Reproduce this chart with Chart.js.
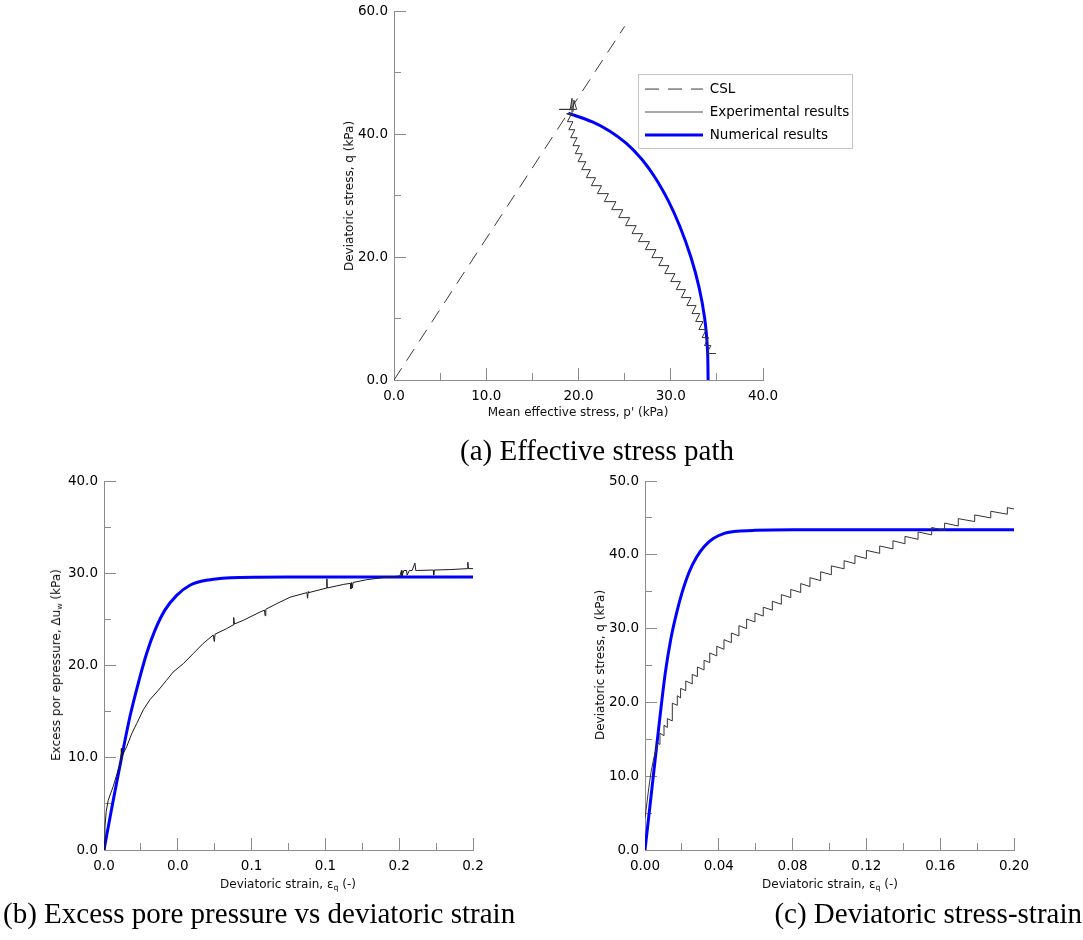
<!DOCTYPE html>
<html>
<head>
<meta charset="utf-8">
<script src="https://cdn.jsdelivr.net/npm/chart.js@4.4.0/dist/chart.umd.min.js"></script>
<style>
html,body{margin:0;padding:0;background:#fff;}
#page{position:relative;width:1083px;height:940px;overflow:hidden;background:#fff;}
#page canvas{position:absolute;left:0;top:0;}
.t{position:absolute;font-family:'DejaVu Sans',sans-serif;font-size:12px;color:#111;white-space:nowrap;line-height:1;}
.tx{transform:translate(-50%,-50%);}
.ty{transform:translate(-50%,-50%) rotate(-90deg);}
.t sub{font-size:65%;vertical-align:-2px;line-height:0;}
.cap{position:absolute;font-family:'Liberation Serif',serif;font-size:29px;color:#000;white-space:nowrap;line-height:1;}
</style>
</head>
<body>
<div id="page">
  <canvas id="chartA" width="1083" height="940"></canvas>
  <canvas id="chartB" width="1083" height="940"></canvas>
  <canvas id="chartC" width="1083" height="940"></canvas>

  <div class="t tx" style="left:578px;top:412px;">Mean effective stress, p' (kPa)</div>
  <div class="t ty" style="left:349px;top:196px;">Deviatoric stress, q (kPa)</div>
  <div class="cap" style="left:460px;top:436px;">(a) Effective stress path</div>

  <div class="t tx" style="left:288px;top:884px;">Deviatoric strain, ε<sub>q</sub> (-)</div>
  <div class="t ty" style="left:56px;top:665px;">Excess por epressure, Δu<sub>w</sub> (kPa)</div>
  <div class="cap" style="left:3px;top:899px;">(b) Excess pore pressure vs deviatoric strain</div>

  <div class="t tx" style="left:830px;top:884px;">Deviatoric strain, ε<sub>q</sub> (-)</div>
  <div class="t ty" style="left:600px;top:665px;">Deviatoric stress, q (kPa)</div>
  <div class="cap" style="right:1px;top:899px;">(c) Deviatoric stress-strain</div>
</div>
<script>
// ---------------- (a) Effective stress path ----------------
const aCslP = [0, 25];
const aCslQ = [0, 57.5];
const aExpP = [34.9, 33.9, 34.35, 33.65, 34.1, 33.4, 33.85, 33.05, 33.5, 32.7, 33.15, 32.3, 32.75, 31.75, 32.2, 31.15, 31.6, 30.6, 31.05, 30.0, 30.45, 29.35, 29.8, 28.7, 29.15, 27.95, 28.4, 27.25, 27.7, 26.5, 26.95, 25.8, 26.25, 25.1, 25.55, 24.35, 24.8, 23.6, 24.05, 22.8, 23.25, 22.05, 22.5, 21.4, 21.85, 20.85, 21.3, 20.35, 20.8, 19.95, 20.4, 19.65, 20.1, 19.4, 19.85, 19.15, 19.6, 18.95, 19.4, 18.8, 19.25, 18.7, 19.3, 19.3, 19.1, 17.9, 19.8, 19.5, 19.4];
const aExpQ = [4.3, 4.3, 5.6, 5.6, 6.9, 6.9, 8.2, 8.2, 9.5, 9.5, 10.8, 10.8, 12.1, 12.1, 13.4, 13.4, 14.7, 14.7, 16.0, 16.0, 17.3, 17.3, 18.6, 18.6, 19.9, 19.9, 21.2, 21.2, 22.5, 22.5, 23.8, 23.8, 25.1, 25.1, 26.4, 26.4, 27.7, 27.7, 29.0, 29.0, 30.3, 30.3, 31.6, 31.6, 32.9, 32.9, 34.2, 34.2, 35.5, 35.5, 36.8, 36.8, 38.1, 38.1, 39.4, 39.4, 40.7, 40.7, 42.0, 42.0, 43.3, 43.3, 43.0, 45.8, 44.0, 44.0, 44.0, 45.5, 43.6];
const aNumP = [34.05, 33.98, 33.68, 33.08, 32.18, 30.98, 29.78, 28.26, 26.79, 25.16, 23.36, 21.45, 18.9];
const aNumQ = [0, 5, 10, 15, 20, 25, 29, 33, 36, 38.5, 40.5, 42, 43.4];
const aXTicks = [0, 10, 20, 30, 40];
const aXTickLabels = ['0.0', '10.0', '20.0', '30.0', '40.0'];
const aXMinorTicks = [5, 15, 25, 35];
const aYTicks = [0, 20, 40, 60];
const aYTickLabels = ['0.0', '20.0', '40.0', '60.0'];
const aYMinorTicks = [10, 30, 50];
const aLegendLabels = ['CSL', 'Experimental results', 'Numerical results'];

// ---------------- (b) Excess pore pressure ----------------
const bExpStrain = [0, 0.0005, 0.0012, 0.0023, 0.0050, 0.0077, 0.0092, 0.0094, 0.0096, 0.0123, 0.0150, 0.0177, 0.0213, 0.0249, 0.0294, 0.0339, 0.0375, 0.0430, 0.0484, 0.0538, 0.0592, 0.0598, 0.0602, 0.0665, 0.0700, 0.0703, 0.0707, 0.0755, 0.0846, 0.0870, 0.0873, 0.0877, 0.0936, 0.1008, 0.1100, 0.1103, 0.1107, 0.1110, 0.1207, 0.1208, 0.1210, 0.1300, 0.1335, 0.1338, 0.1342, 0.1346, 0.1350, 0.1423, 0.1520, 0.1604, 0.1612, 0.1615, 0.1625, 0.1640, 0.1643, 0.1655, 0.1670, 0.1685, 0.1690, 0.1700, 0.1785, 0.1787, 0.1790, 0.1880, 0.1970, 0.1972, 0.1975, 0.2000];
const bExpDu = [0, 2.5, 4.2, 5.4, 6.9, 8.7, 9.6, 11.0, 10.1, 11.2, 12.6, 13.7, 15.2, 16.3, 17.3, 18.4, 19.3, 20.2, 21.3, 22.4, 23.3, 22.6, 23.4, 24.0, 24.4, 25.2, 24.5, 24.9, 25.8, 26.0, 25.4, 26.1, 26.7, 27.4, 27.9, 27.3, 28.0, 27.9, 28.4, 29.4, 28.4, 28.8, 28.9, 28.3, 29.0, 28.4, 29.0, 29.3, 29.55, 29.7, 30.3, 29.7, 30.3, 30.3, 29.8, 30.3, 30.3, 31.1, 30.3, 30.3, 30.35, 29.8, 30.35, 30.4, 30.5, 31.2, 30.5, 30.5];
const bNumStrain = [0, 0.005, 0.0096, 0.0141, 0.0186, 0.0231, 0.0276, 0.033, 0.0394, 0.0466, 0.0575, 0.0737, 0.1, 0.2];
const bNumDu = [0, 5.4, 10.1, 14.5, 18.1, 21.3, 23.8, 26.0, 27.6, 28.7, 29.3, 29.55, 29.6, 29.6];
const bXTicks = [0, 0.04, 0.08, 0.12, 0.16, 0.20];
const bXTickLabels = ['0.0', '0.0', '0.1', '0.1', '0.2', '0.2'];
const bXMinorTicks = [0.02, 0.06, 0.10, 0.14, 0.18];
const bYTicks = [0, 10, 20, 30, 40];
const bYTickLabels = ['0.0', '10.0', '20.0', '30.0', '40.0'];
const bYMinorTicks = [5, 15, 25, 35];

// ---------------- (c) Deviatoric stress-strain ----------------
const cExpStrain = [0, 0.0021, 0.0033, 0.0050, 0.0070, 0.0081, 0.0081, 0.0103, 0.0103, 0.0121, 0.0121, 0.0148, 0.0148, 0.0175, 0.0175, 0.0193, 0.0193, 0.0221, 0.0221, 0.0256, 0.0256, 0.0284, 0.0284, 0.0320, 0.0320, 0.0351, 0.0351, 0.0389, 0.0389, 0.0428, 0.0428, 0.0468, 0.0468, 0.0509, 0.0509, 0.0551, 0.0551, 0.0596, 0.0596, 0.0641, 0.0641, 0.0690, 0.0690, 0.0739, 0.0739, 0.0790, 0.0790, 0.0844, 0.0844, 0.0894, 0.0894, 0.0952, 0.0952, 0.1010, 0.1010, 0.1079, 0.1079, 0.1138, 0.1138, 0.1200, 0.1200, 0.1272, 0.1272, 0.1344, 0.1344, 0.1409, 0.1409, 0.1480, 0.1480, 0.1554, 0.1554, 0.1624, 0.1624, 0.1698, 0.1698, 0.1787, 0.1787, 0.1874, 0.1874, 0.1964, 0.1964, 0.2000];
const cExpQ = [4.3, 8.5, 10.6, 12.7, 14.5, 14.3, 15.8, 15.5, 16.9, 16.6, 17.8, 17.5, 19.9, 19.6, 20.9, 20.6, 21.9, 21.6, 22.9, 22.5, 23.8, 23.5, 24.8, 24.4, 25.7, 25.4, 26.7, 26.3, 27.6, 27.2, 28.5, 28.1, 29.4, 29.0, 30.4, 30.0, 31.3, 30.9, 32.1, 31.7, 32.9, 32.5, 33.7, 33.3, 34.6, 34.2, 35.3, 34.9, 36.1, 35.7, 36.9, 36.5, 37.7, 37.3, 38.5, 38.1, 39.2, 38.8, 39.9, 39.5, 40.6, 40.2, 41.2, 40.8, 41.9, 41.5, 42.5, 42.1, 43.1, 42.7, 43.7, 43.3, 44.3, 43.9, 44.9, 44.5, 45.4, 45.0, 45.9, 45.5, 46.4, 46.2];
const cNumStrain = [0, 0.004, 0.008, 0.011, 0.014, 0.017, 0.020, 0.024, 0.028, 0.032, 0.037, 0.043, 0.050, 0.060, 0.080, 0.2];
const cNumQ = [0, 8.9, 17.8, 24.0, 28.6, 32.0, 34.8, 37.7, 39.7, 41.1, 42.2, 42.9, 43.2, 43.32, 43.38, 43.4];
const cXTicks = [0, 0.04, 0.08, 0.12, 0.16, 0.20];
const cXTickLabels = ['0.00', '0.04', '0.08', '0.12', '0.16', '0.20'];
const cXMinorTicks = [0.02, 0.06, 0.10, 0.14, 0.18];
const cYTicks = [0, 10, 20, 30, 40, 50];
const cYTickLabels = ['0.0', '10.0', '20.0', '30.0', '40.0', '50.0'];
const cYMinorTicks = [5, 15, 25, 35, 45];

// ---------------- styling / helpers ----------------
const FONT = "'DejaVu Sans'";
const AXIS_GRAY = '#8c8c8c';
const EXP_COLOR = '#333333';
const NUM_COLOR = '#0000ff';

function pts(xs, ys) { return xs.map((x, i) => ({ x: x, y: ys[i] })); }

function majorAxis(pos, min, max, ticks, labels) {
  return {
    type: 'linear', position: pos, min: min, max: max, weight: 1,
    afterBuildTicks: s => { s.ticks = ticks.map(v => ({ value: v })); },
    afterFit: s => {
      if (pos === 'left') s.width = 50; else s.height = 30;
      s.paddingTop = 0; s.paddingBottom = 0; s.paddingLeft = 0; s.paddingRight = 0;
    },
    grid: { display: true, drawOnChartArea: false, drawTicks: true, tickLength: -12, color: AXIS_GRAY, lineWidth: 1 },
    border: { display: true, color: AXIS_GRAY, width: 1 },
    ticks: {
      display: true, autoSkip: false, maxRotation: 0, minRotation: 0,
      padding: pos === 'left' ? 18 : 20, color: '#000',
      font: { family: FONT, size: 13.5 },
      callback: (v, i) => labels[i]
    }
  };
}
function minorAxis(pos, min, max, ticks) {
  return {
    type: 'linear', position: pos, min: min, max: max, weight: 0,
    afterBuildTicks: s => { s.ticks = ticks.map(v => ({ value: v })); },
    afterFit: s => {
      if (pos === 'left') s.width = 0; else s.height = 0;
      s.paddingTop = 0; s.paddingBottom = 0; s.paddingLeft = 0; s.paddingRight = 0;
    },
    grid: { display: true, drawOnChartArea: false, drawTicks: true, tickLength: -7, color: AXIS_GRAY, lineWidth: 1 },
    border: { display: false },
    ticks: { display: false }
  };
}
function buildScales(xMin, xMax, xT, xL, xM, yMin, yMax, yT, yL, yM) {
  return {
    x: majorAxis('bottom', xMin, xMax, xT, xL),
    xm: minorAxis('bottom', xMin, xMax, xM),
    y: majorAxis('left', yMin, yMax, yT, yL),
    ym: minorAxis('left', yMin, yMax, yM)
  };
}
function baseOptions(padding, scales) {
  return {
    responsive: false, animation: false, devicePixelRatio: 1,
    layout: { padding: padding },
    scales: scales,
    plugins: { legend: { display: false }, tooltip: { enabled: false }, title: { display: false } },
    elements: { point: { radius: 0 } }
  };
}

// legend placement and frame (layout, not data)
const LEGEND_POS = { left: 635.5, top: 72.8 };
const LEGEND_FRAME = { left: 638, top: 74, width: 214, height: 74 };
const legendFrame = {
  id: 'legendFrame',
  afterLayout(chart) {
    const lg = chart.legend;
    if (!lg) return;
    lg.left = LEGEND_POS.left; lg.top = LEGEND_POS.top;
    lg.width = LEGEND_FRAME.width + 20; lg.height = LEGEND_FRAME.height + 10;
    lg.right = lg.left + lg.width; lg.bottom = lg.top + lg.height;
  },
  beforeDraw(chart) {
    const ctx = chart.ctx, f = LEGEND_FRAME;
    ctx.save();
    ctx.fillStyle = '#ffffff';
    ctx.fillRect(f.left, f.top, f.width, f.height);
    ctx.strokeStyle = '#c4c4c4';
    ctx.lineWidth = 1;
    ctx.strokeRect(f.left + 0.5, f.top + 0.5, f.width, f.height);
    ctx.restore();
  }
};

// ---------------- chart (a) ----------------
const optA = baseOptions({ left: 344, right: 320, top: 11, bottom: 530 },
  buildScales(0, 40, aXTicks, aXTickLabels, aXMinorTicks, 0, 60, aYTicks, aYTickLabels, aYMinorTicks));
optA.plugins.legend = {
  display: true, position: 'chartArea', align: 'start', fullSize: false,
  labels: {
    usePointStyle: true, pointStyle: 'line', pointStyleWidth: 58, padding: 9.5,
    color: '#000', font: { family: FONT, size: 13.5 },
    generateLabels: chart => {
      const items = Chart.defaults.plugins.legend.labels.generateLabels(chart);
      items.forEach(it => {
        const ds = chart.data.datasets[it.datasetIndex];
        it.lineDash = ds.borderDash || [];
        it.lineWidth = ds.legendLineWidth || ds.borderWidth;
        it.strokeStyle = ds.legendColor || ds.borderColor;
        it.pointStyle = 'line';
      });
      return items;
    }
  }
};
new Chart(document.getElementById('chartA'), {
  type: 'line',
  data: {
    datasets: [
      { label: aLegendLabels[0], data: pts(aCslP, aCslQ), borderColor: '#3a3a3a', borderWidth: 1, borderDash: [14, 9], pointRadius: 0, tension: 0, fill: false },
      { label: aLegendLabels[1], data: pts(aExpP, aExpQ), borderColor: EXP_COLOR, legendColor: '#8a8a8a', legendLineWidth: 1.5, borderWidth: 1, pointRadius: 0, tension: 0, fill: false },
      { label: aLegendLabels[2], data: pts(aNumP, aNumQ), indexAxis: 'y', borderColor: NUM_COLOR, borderWidth: 3, pointRadius: 0, cubicInterpolationMode: 'monotone', fill: false }
    ]
  },
  options: optA,
  plugins: [legendFrame]
});

// ---------------- chart (b) ----------------
new Chart(document.getElementById('chartB'), {
  type: 'line',
  data: {
    datasets: [
      { label: 'Experimental results', data: pts(bExpStrain, bExpDu), borderColor: '#1a1a1a', borderWidth: 1, pointRadius: 0, tension: 0, fill: false },
      { label: 'Numerical results', data: pts(bNumStrain, bNumDu), borderColor: NUM_COLOR, borderWidth: 3, pointRadius: 0, cubicInterpolationMode: 'monotone', fill: false }
    ]
  },
  options: baseOptions({ left: 54, right: 610, top: 481, bottom: 60 },
    buildScales(0, 0.2, bXTicks, bXTickLabels, bXMinorTicks, 0, 40, bYTicks, bYTickLabels, bYMinorTicks))
});

// ---------------- chart (c) ----------------
new Chart(document.getElementById('chartC'), {
  type: 'line',
  data: {
    datasets: [
      { label: 'Experimental results', data: pts(cExpStrain, cExpQ), borderColor: EXP_COLOR, borderWidth: 1, pointRadius: 0, tension: 0, fill: false },
      { label: 'Numerical results', data: pts(cNumStrain, cNumQ), borderColor: NUM_COLOR, borderWidth: 3, pointRadius: 0, cubicInterpolationMode: 'monotone', fill: false }
    ]
  },
  options: baseOptions({ left: 595, right: 69, top: 481, bottom: 60 },
    buildScales(0, 0.2, cXTicks, cXTickLabels, cXMinorTicks, 0, 50, cYTicks, cYTickLabels, cYMinorTicks))
});
</script>
</body>
</html>
